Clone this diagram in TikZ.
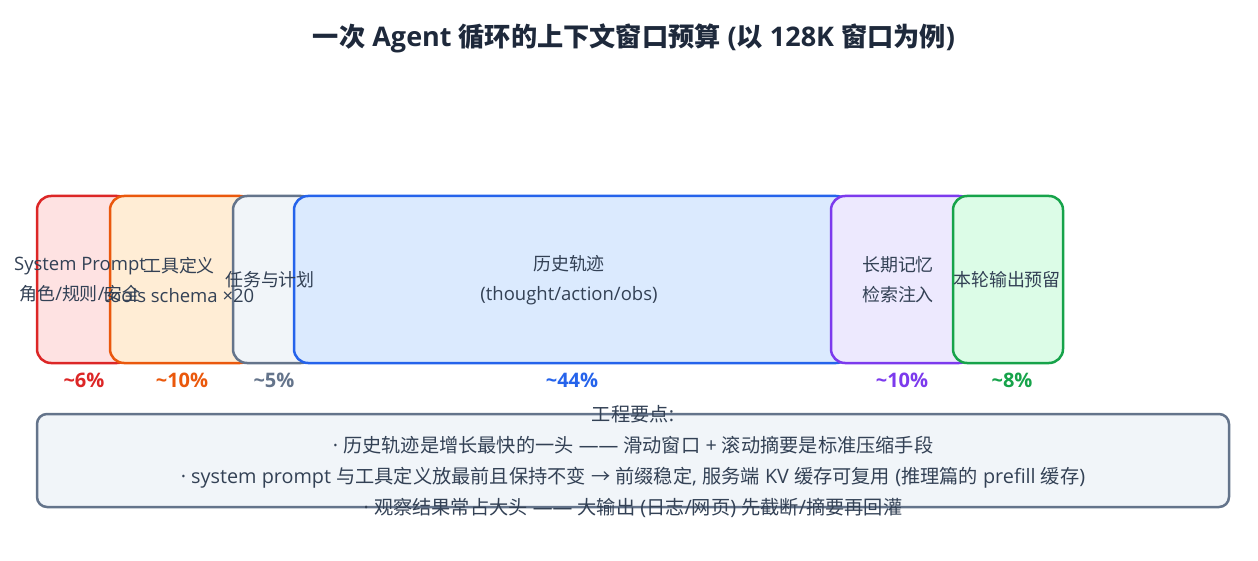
\documentclass[tikz,border=0pt]{standalone}
\usepackage{fontspec}
\setmainfont{Open Sans}
\newfontfamily\cjk{Noto Sans CJK SC}[Scale=0.97]
\usetikzlibrary{positioning}

% switch to the CJK family for Han characters
\XeTeXinterchartokenstate=1
\newXeTeXintercharclass\cjkclass
\newcount\cjkcode
\cjkcode="4E00
\loop \XeTeXcharclass\cjkcode=\cjkclass \ifnum\cjkcode<"9FFF \advance\cjkcode by 1 \repeat
\cjkcode="3000
\loop \XeTeXcharclass\cjkcode=\cjkclass \ifnum\cjkcode<"303F \advance\cjkcode by 1 \repeat
\XeTeXcharclass"2192=\cjkclass
\XeTeXinterchartoks 0 \cjkclass = {\cjk}
\XeTeXinterchartoks 4095 \cjkclass = {\cjk}
\XeTeXinterchartoks \cjkclass 0 = {\rmfamily}
\XeTeXinterchartoks \cjkclass 4095 = {\rmfamily}

\definecolor{titlecol}{HTML}{1E293B}
\definecolor{textcol}{HTML}{334155}
\definecolor{redline}{HTML}{DC2626}
\definecolor{redfill}{HTML}{FEE2E2}
\definecolor{orangeline}{HTML}{EA580C}
\definecolor{orangefill}{HTML}{FFEDD5}
\definecolor{grayline}{HTML}{64748B}
\definecolor{grayfill}{HTML}{F1F5F9}
\definecolor{blueline}{HTML}{2563EB}
\definecolor{bluefill}{HTML}{DBEAFE}
\definecolor{purpleline}{HTML}{7C3AED}
\definecolor{purplefill}{HTML}{EDE9FE}
\definecolor{greenline}{HTML}{16A34A}
\definecolor{greenfill}{HTML}{DCFCE7}

\tikzset{
  seg/.style={draw, line width=2.5pt, rounded corners=14pt, minimum height=167pt, inner sep=0pt},
  segtext/.style={text=textcol, font=\fontsize{18.5}{30}\selectfont, align=center, inner sep=0pt},
  pct/.style={font=\bfseries\fontsize{20}{22}\selectfont, inner sep=0pt},
}

\begin{document}
\begin{tikzpicture}[x=1pt, y=-1pt]

    \useasboundingbox (0, 0) rectangle (1258, 561);

    \node[font=\bfseries\fontsize{27}{29}\selectfont, text=titlecol] (title) at (634, 38) {一次 Agent 循环的上下文窗口预算 (以 128K 窗口为例)};

    % context window segments
    \node[seg, draw=redline, fill=redfill, minimum width=94pt] (sys) at (84, 279.5) {};
    \node[seg, draw=orangeline, fill=orangefill, minimum width=144pt] (tools) at (182, 279.5) {};
    \node[seg, draw=grayline, fill=grayfill, minimum width=82pt] (task) at (274, 279.5) {};
    \node[seg, draw=blueline, fill=bluefill, minimum width=556pt] (hist) at (572, 279.5) {};
    \node[seg, draw=purpleline, fill=purplefill, minimum width=142pt] (mem) at (902, 279.5) {};
    \node[seg, draw=greenline, fill=greenfill, minimum width=110pt] (out) at (1008, 279.5) {};

    \node[segtext] (systxt) at (80, 280) {System Prompt\\角色/规则/安全};
    \node[segtext] (toolstxt) at (179, 280) {工具定义\\tools schema ×20};
    \node[segtext] (tasktxt) at (270, 280) {任务与计划};
    \node[segtext] (histtxt) at (569, 280) {历史轨迹\\(thought/action/obs)};
    \node[segtext] (memtxt) at (898, 280) {长期记忆\\检索注入};
    \node[segtext] (outtxt) at (1007, 280) {本轮输出预留};

    \node[pct, text=redline] (syspct) at (84, 380) {\textasciitilde 6\%};
    \node[pct, text=orangeline] (toolspct) at (182, 380) {\textasciitilde 10\%};
    \node[pct, text=grayline] (taskpct) at (274, 380) {\textasciitilde 5\%};
    \node[pct, text=blueline] (histpct) at (572, 380) {\textasciitilde 44\%};
    \node[pct, text=purpleline] (mempct) at (902, 380) {\textasciitilde 10\%};
    \node[pct, text=greenline] (outpct) at (1012, 380) {\textasciitilde 8\%};

    % notes
    \node[draw=grayline, fill=grayfill, line width=2.5pt, rounded corners=10pt, minimum width=1192pt, minimum height=93pt] (notes) at (633, 460.5) {};
    \node[segtext, font=\fontsize{19.8}{31}\selectfont] (notestxt) at (633, 461.5) {工程要点:\\
      · 历史轨迹是增长最快的一头 —— 滑动窗口 + 滚动摘要是标准压缩手段\\
      · system prompt 与工具定义放最前且保持不变 → 前缀稳定, 服务端 KV 缓存可复用 (推理篇的 prefill 缓存)\\
      · 观察结果常占大头 —— 大输出 (日志/网页) 先截断/摘要再回灌};

\end{tikzpicture}
\end{document}
